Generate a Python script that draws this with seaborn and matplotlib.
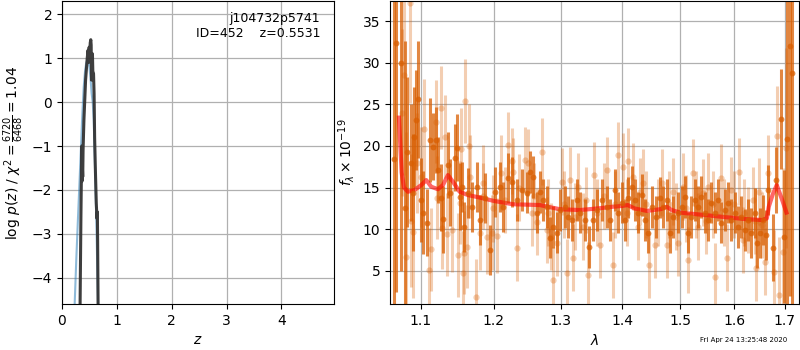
import numpy as np
import pandas as pd
import matplotlib
matplotlib.use('Agg')
import matplotlib.pyplot as plt
from matplotlib.ticker import NullLocator, FixedLocator, FixedFormatter
import seaborn as sns

# p(z) curves (left panel)
z_fine = [0.330, 0.345, 0.360, 0.366, 0.372, 0.378, 0.384, 0.400, 0.430, 0.460,
          0.475, 0.485, 0.495, 0.505, 0.515, 0.525, 0.532, 0.538, 0.545, 0.555,
          0.562, 0.575, 0.585, 0.595, 0.610, 0.625, 0.638, 0.645, 0.650, 0.658]
logp_fine = [-4.6, -2.6, -1.0, -1.8, -1.5, -1.7, -1.1, -0.4, 0.5, 1.0,
             1.18, 0.9, 1.25, 1.1, 1.35, 1.42, 1.3, 0.5, 1.0, 1.1,
             0.7, 0.65, 0.2, -0.8, -1.6, -2.3, -2.65, -2.5, -3.2, -4.6]

z_coarse = [0.231, 0.260, 0.290, 0.320, 0.347, 0.370, 0.396, 0.420, 0.440, 0.460,
            0.480, 0.500, 0.520, 0.540, 0.560, 0.578, 0.600, 0.626, 0.657]
logp_coarse = [-4.6, -3.6, -2.68, -1.8, -1.0, -0.3, 0.34, 0.7, 0.88, 0.95,
               0.92, 0.8, 0.55, 0.2, 0.0, -0.4, -1.4, -2.7, -4.6]

# spectrum, first orientation (darker points)
wave_a = [1.0651, 1.0680, 1.0740, 1.0791, 1.0817, 1.0865, 1.0891, 1.0915, 1.0939, 1.0961,
          1.0996, 1.1025, 1.1083, 1.1115, 1.1159, 1.1195, 1.1226, 1.1271, 1.1293, 1.1361,
          1.1384, 1.1453, 1.1489, 1.1521, 1.1553, 1.1581, 1.1636, 1.1688, 1.1757, 1.1804,
          1.1875, 1.1946, 1.2018, 1.2090, 1.2138, 1.2212, 1.2261, 1.2334, 1.2408, 1.2483,
          1.2532, 1.2582, 1.2633, 1.2683, 1.2733, 1.2785, 1.2835, 1.2886, 1.2938, 1.2990,
          1.3068, 1.3120, 1.3173, 1.3251, 1.3304, 1.3384, 1.3453, 1.3518, 1.3572, 1.3654,
          1.3736, 1.3790, 1.3873, 1.3928, 1.3985, 1.4040, 1.4096, 1.4153, 1.4209, 1.4266,
          1.4323, 1.4380, 1.4437, 1.4496, 1.4570, 1.4640, 1.4698, 1.4758, 1.4817, 1.4876,
          1.4965, 1.5026, 1.5085, 1.5145, 1.5205, 1.5266, 1.5327, 1.5389, 1.5451, 1.5512,
          1.5574, 1.5636, 1.5699, 1.5762, 1.5825, 1.5887, 1.5951, 1.6015, 1.6078, 1.6144,
          1.6208, 1.6273, 1.6338, 1.6403, 1.6448, 1.6500, 1.6566, 1.6620, 1.6665, 1.6766,
          1.6820, 1.6934, 1.6987, 1.7048, 1.7103, 1.7158]
flux_a = [18.4, 32.4, 30.0, 12.6, 19.3, 18.0, 14.4, 21.1, 23.1, 25.6,
          13.5, 12.0, 10.8, 20.7, 19.9, 20.7, 17.1, 13.8, 11.2, 17.7,
          14.4, 18.6, 19.8, 13.9, 15.1, 10.3, 14.4, 12.7, 15.1, 11.1,
          13.8, 7.5, 14.5, 15.1, 12.7, 16.2, 15.7, 13.5, 14.7, 14.4,
          16.9, 16.3, 12.0, 14.5, 13.5, 12.7, 9.0, 10.3, 9.6, 12.3,
          12.7, 11.5, 11.1, 13.5, 12.0, 11.1, 7.9, 11.1, 12.3, 13.5,
          12.7, 11.1, 14.7, 12.0, 13.2, 11.1, 13.8, 15.1, 13.5, 12.0,
          14.1, 11.1, 9.6, 12.7, 11.5, 13.8, 12.7, 13.5, 9.6, 11.5,
          12.0, 12.7, 13.9, 9.6, 11.5, 13.5, 12.7, 13.9, 12.0, 11.1,
          13.2, 12.0, 13.5, 10.8, 12.3, 13.2, 11.1, 12.0, 10.3, 11.5,
          9.9, 11.1, 9.6, 12.0, 8.4, 9.6, 11.1, 9.3, 14.7, 7.8,
          15.9, 23.2, 9.1, 20.8, 32.0, 28.8]
err_a = [30, 30, 25, 20, 9, 7, 7, 6, 6, 7,
         5, 5, 4, 5, 4, 4, 4, 4, 4, 4,
         4, 4, 4, 4, 3, 3, 3, 3, 3, 3,
         3, 3, 3, 3, 3, 3, 3, 2.5, 2.5, 2.5,
         2.5, 2.5, 2.5, 2.5, 2.5, 2.5, 2.5, 2.5, 2.5, 2.5,
         2.5, 2.5, 2.5, 2.5, 2.5, 2.5, 2.5, 2.5, 2.5, 2.5,
         2.5, 2.5, 2.5, 2.5, 2.5, 2.5, 2.5, 2.5, 2.5, 2.5,
         2.5, 2.5, 2.5, 2.5, 2.5, 2.5, 2.5, 2.5, 2.5, 2.5,
         2.5, 2.5, 2.5, 2.5, 2.5, 2.5, 2.5, 2.5, 2.5, 2.5,
         2.5, 2.5, 2.5, 2.5, 2.5, 2.5, 2.5, 2.5, 2.5, 2.5,
         2.5, 2.5, 3, 3, 3, 3, 3, 3, 3, 4,
         4, 6, 8, 25, 30, 30]

# spectrum, second orientation (faint points)
wave_b = [1.0752, 1.0778, 1.0807, 1.0851, 1.0865, 1.0894, 1.0950, 1.1004, 1.1039, 1.1101,
          1.1136, 1.1195, 1.1216, 1.1262, 1.1280, 1.1324, 1.1351, 1.1415, 1.1497, 1.1521,
          1.1543, 1.1562, 1.1581, 1.1599, 1.1618, 1.1646, 1.1660, 1.1744, 1.1804, 1.1851,
          1.1908, 1.1970, 1.2042, 1.2100, 1.2212, 1.2261, 1.2285, 1.2344, 1.2458, 1.2508,
          1.2558, 1.2633, 1.2718, 1.2785, 1.2850, 1.2886, 1.2948, 1.3016, 1.3094, 1.3146,
          1.3188, 1.3277, 1.3357, 1.3437, 1.3534, 1.3626, 1.3736, 1.3835, 1.3928, 1.4012,
          1.4096, 1.4181, 1.4266, 1.4352, 1.4454, 1.4553, 1.4687, 1.4769, 1.4876, 1.4954,
          1.5055, 1.5145, 1.5236, 1.5327, 1.5419, 1.5512, 1.5636, 1.5762, 1.5857, 1.5951,
          1.6098, 1.6175, 1.6273, 1.6370, 1.6436, 1.6486, 1.6600, 1.6665, 1.6786, 1.6847,
          1.6880, 1.6968, 1.7036,
          1.1850, 1.1990, 1.2160, 1.2370, 1.2600, 1.2810, 1.3050, 1.3220, 1.3400, 1.3580,
          1.3700, 1.3880, 1.4070, 1.4300, 1.4400, 1.4600, 1.4800, 1.4930, 1.5100, 1.5280,
          1.5480, 1.5600, 1.5800, 1.6000, 1.6200, 1.6400, 1.6550]
flux_b = [24.0, 28.5, 6.7, 37.2, 11.0, 9.7, 18.0, 16.3, 22.0, 5.1,
          7.6, 22.9, 13.8, 24.6, 10.2, 21.1, 9.4, 9.9, 6.9, 13.2,
          19.6, 4.8, 7.2, 25.4, 7.9, 20.0, 16.3, 1.9, 9.6, 15.6,
          9.1, 9.6, 9.2, 16.8, 20.1, 18.2, 16.9, 7.8, 18.3, 18.0,
          12.0, 10.9, 19.3, 9.9, 9.1, 3.9, 8.4, 15.7, 4.8, 15.9,
          6.6, 15.1, 10.3, 4.5, 16.5, 8.1, 17.1, 5.7, 18.9, 17.5,
          18.2, 16.3, 10.3, 15.6, 5.7, 8.1, 15.6, 8.1, 14.5, 8.4,
          15.1, 6.3, 16.8, 10.3, 14.4, 15.1, 4.3, 16.2, 6.6, 14.7,
          16.9, 8.7, 11.1, 13.5, 5.4, 14.5, 6.1, 16.8, 4.9, 21.2,
          2.1, 7.3, 19.8,
          14.0, 12.5, 13.5, 15.0, 14.0, 12.0, 13.0, 11.5, 13.5, 12.0,
          14.0, 13.0, 12.0, 14.5, 13.0, 12.0, 13.0, 11.5, 12.5, 13.0,
          11.0, 13.0, 12.0, 13.0, 12.0, 11.0, 10.5]
err_b = [10, 12, 15, 12, 8, 8, 6, 6, 6, 5,
         5, 5, 5, 5, 5, 5, 5, 5, 5, 5,
         5, 5, 5, 5, 5, 5, 5, 4.5, 4.5, 4.5,
         4.5, 4.5, 4.5, 4.5, 4, 4, 4, 4, 4, 4,
         4, 4, 4, 4, 4, 4, 4, 4, 4, 4,
         4, 4, 4, 4, 4, 4, 4, 4, 4, 4,
         4, 4, 4, 4, 4, 4, 4, 4, 4, 4,
         4, 4, 4, 4, 4, 4, 4, 4, 4, 4,
         4, 4, 4, 4, 4, 4, 4, 4.5, 5, 6,
         7, 10, 12,
         4, 4, 4, 4, 4, 4, 4, 4, 4, 4,
         4, 4, 4, 4, 4, 4, 4, 4, 4, 4,
         4, 4, 4, 4, 4, 4, 4]

# best-fit model
wave_m = [1.0714, 1.0749, 1.0778, 1.0830, 1.0915, 1.1004, 1.1070, 1.1136, 1.1226, 1.1293,
          1.1361, 1.1429, 1.1521, 1.1636, 1.1804, 1.2000, 1.2279, 1.2682, 1.2990, 1.3304,
          1.3600, 1.3840, 1.4000, 1.4090, 1.4200, 1.4414, 1.4650, 1.4764, 1.4850, 1.4995,
          1.5600, 1.6246, 1.6554, 1.6640, 1.6680, 1.6760, 1.6840, 1.6950, 1.7036]
flux_m = [23.4, 16.8, 15.0, 14.5, 14.7, 15.3, 15.9, 15.1, 14.8, 15.3,
          16.5, 15.7, 14.5, 14.1, 13.8, 13.4, 13.0, 12.9, 12.4, 12.3,
          12.5, 12.7, 12.8, 12.9, 12.5, 12.2, 12.4, 12.7, 12.3, 12.0,
          11.6, 11.2, 11.1, 11.3, 12.7, 14.2, 15.3, 13.5, 12.0]

lam_ticks = [1.1, 1.2, 1.3, 1.4, 1.5, 1.6, 1.7]

orange = '#d95f02'

fig = plt.figure(figsize=(8, 3.5), dpi=100)
ax1 = fig.add_axes([0.0775, 0.131, 0.34, 0.866])
ax2 = fig.add_axes([0.4875, 0.131, 0.511, 0.866])

# left: p(z)
sns.lineplot(x=z_coarse, y=logp_coarse, ax=ax1, color='tab:blue', alpha=0.5,
             lw=1.5, sort=False, estimator=None)
sns.lineplot(x=z_fine, y=logp_fine, ax=ax1, color='0.2', alpha=0.95,
             lw=2.2, sort=False, estimator=None)
ax1.set_xlim(0, 4.96)
ax1.set_ylim(-4.6, 2.3)
ax1.set_xticks([0, 1, 2, 3, 4])
ax1.set_yticks([-4, -3, -2, -1, 0, 1, 2])
ax1.grid(True, color='#b0b0b0', lw=0.9)
ax1.set_axisbelow(True)
ax1.set_xlabel('$z$')
ax1.set_ylabel(r'log $p(z)$ / $\chi^2=\frac{6720}{6468}=1.04$')
ax1.text(0.949, 0.965, 'j104732p5741\nID=452    z=0.5531', ha='right', va='top',
         transform=ax1.transAxes, fontsize=9, linespacing=1.25)

# right: spectrum
ax2.errorbar(wave_b, flux_b, yerr=err_b, fmt='o', color=orange, alpha=0.3,
             ms=4.5, elinewidth=2.2, capsize=0, mew=0)
ax2.errorbar(wave_a, flux_a, yerr=err_a, fmt='o', color=orange, alpha=0.75,
             ms=4.2, elinewidth=2.2, capsize=0, mew=0)
spec = pd.DataFrame({'wave': wave_m, 'flux': flux_m})
sns.lineplot(data=spec, x='wave', y='flux', ax=ax2, color='red', alpha=0.6,
             lw=3, sort=False, estimator=None)
ax2.set_xscale('log')
ax2.set_xlim(1.06, 1.729)
ax2.set_ylim(1.0, 37.4)
ax2.xaxis.set_major_locator(FixedLocator(lam_ticks))
ax2.xaxis.set_major_formatter(FixedFormatter([f'{v:.1f}' for v in lam_ticks]))
ax2.xaxis.set_minor_locator(NullLocator())
ax2.set_yticks([5, 10, 15, 20, 25, 30, 35])
ax2.grid(True, color='#b0b0b0', lw=0.9)
ax2.set_axisbelow(True)
ax2.set_xlabel(r'$\lambda$')
ax2.set_ylabel(r'$f_\lambda\times10^{-19}$')

fig.text(0.984, 0.029, 'Fri Apr 24 13:25:48 2020', ha='right', va='center', fontsize=5)

fig.savefig('out.png', dpi=100)
